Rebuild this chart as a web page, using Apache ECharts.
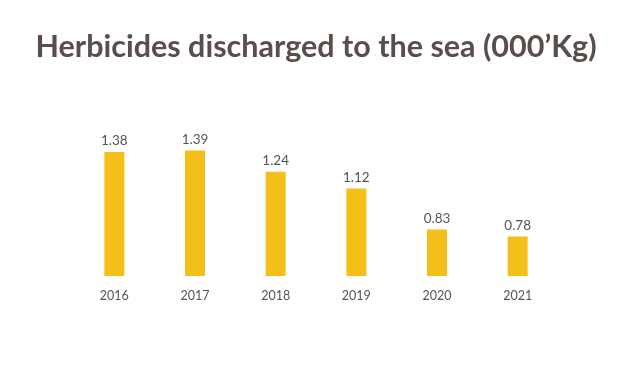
<!DOCTYPE html>
<html><head><meta charset="utf-8">
<script src="https://cdn.jsdelivr.net/npm/echarts@6/dist/echarts.min.js"></script>
<style>html,body{margin:0;padding:0;background:#fff}#c{width:632px;height:370px}</style>
</head><body><div id="c"></div>
<script>
const years = ['2016','2017','2018','2019','2020','2021'];
const values = [1.38, 1.39, 1.24, 1.12, 0.83, 0.78];
const chart = echarts.init(document.getElementById('c'));
chart.setOption({
  animation:false,
  title:{text:"Herbicides discharged to the sea (000\u2019Kg)",left:'center',top:27,
    textStyle:{fontFamily:'Lato',fontWeight:'bold',fontSize:30.5,color:'#5b4d4b'}},
  grid:{left:74,right:74,top:135,bottom:94},
  xAxis:{type:'category',data:years,axisLine:{show:false},axisTick:{show:false},
    axisLabel:{margin:13,fontFamily:'Lato',fontSize:12.5,color:'#555'}},
  yAxis:{type:'value',min:0.5,max:1.5,show:false,splitLine:{show:false}},
  series:[{type:'bar',data:values,barWidth:20,itemStyle:{color:'#f5bf19'},
    label:{show:true,position:'top',distance:4,fontFamily:'Lato',fontSize:13.5,color:'#555',
      formatter:p=>p.value.toFixed(2)}}]
});
</script></body></html>
